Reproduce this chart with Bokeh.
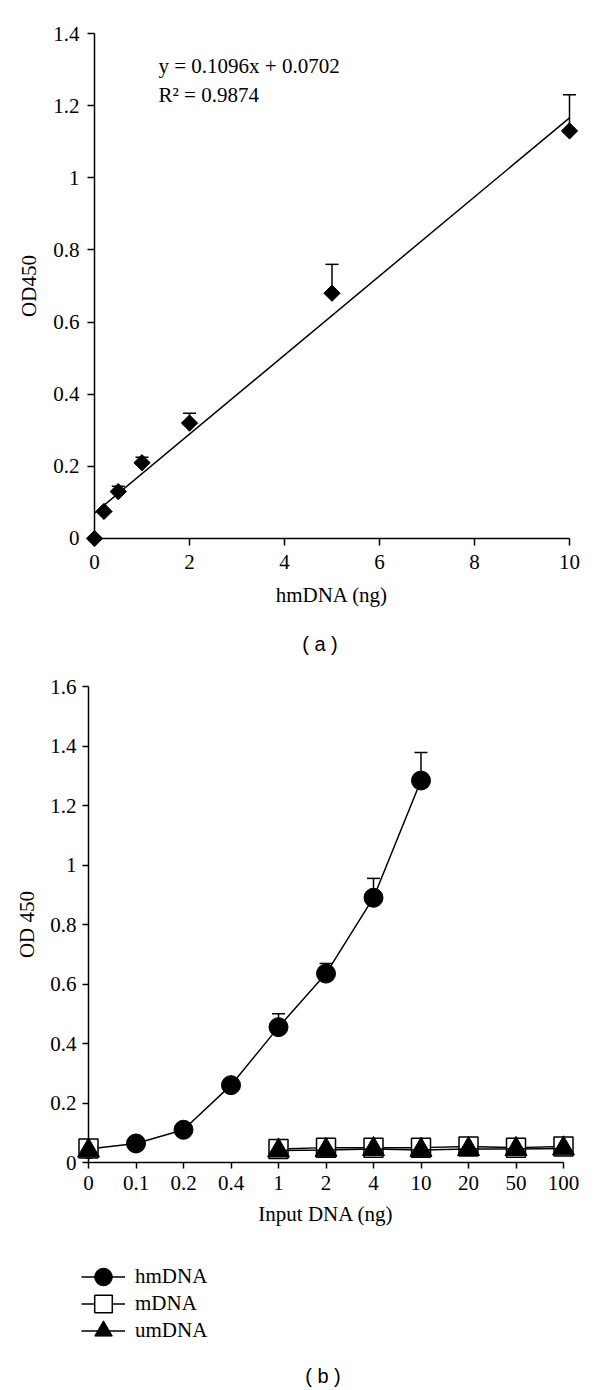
import numpy as np
from bokeh.plotting import figure
from bokeh.models import (Range1d, FixedTicker, NumeralTickFormatter, Whisker, TeeHead,
                          ColumnDataSource, Label, Legend, LegendItem)
from bokeh.layouts import column
from bokeh.embed import file_html
from bokeh.resources import INLINE

# ---------------- data: panel (a) ----------------
a_amount = [0, 0.2, 0.5, 1, 2, 5, 10]          # hmDNA (ng)
a_od = [0.0, 0.075, 0.13, 0.21, 0.32, 0.68, 1.13]
a_sd = [0.0, 0.0, 0.015, 0.015, 0.027, 0.08, 0.10]
fit_slope = 0.1096
fit_intercept = 0.0702
fit_r2 = 0.9874
a_xticks = [0, 2, 4, 6, 8, 10]
a_yticks = [0, 0.2, 0.4, 0.6, 0.8, 1.0, 1.2, 1.4]

# ---------------- data: panel (b) ----------------
nan = float("nan")
b_categories = ["0", "0.1", "0.2", "0.4", "1", "2", "4", "10", "20", "50", "100"]
hm_od = [0.045, 0.064, 0.11, 0.26, 0.455, 0.635, 0.89, 1.284, nan, nan, nan]
hm_sd = [0.0, 0.0, 0.0, 0.0, 0.045, 0.034, 0.065, 0.094, nan, nan, nan]
m_od = [0.047, nan, nan, nan, 0.045, 0.05, 0.05, 0.05, 0.054, 0.05, 0.054]
um_od = [0.04, nan, nan, nan, 0.04, 0.042, 0.045, 0.042, 0.045, 0.045, 0.047]
b_yticks = [0, 0.2, 0.4, 0.6, 0.8, 1.0, 1.2, 1.4, 1.6]

SERIF = "Liberation Serif"
SANS = "Liberation Sans"
FS = "21px"
INK = "#000000"
W = 584
A_TOP, A_BOT = 0, 660        # page rows covered by figure (a)
B_TOP, B_BOT = 660, 1390     # page rows covered by figure (b)


def style_axes(p, xb, yb, tick_out, lab_stand_x, lab_stand_y, ax_stand_x, ax_stand_y):
    for ax in (p.xaxis[0], p.yaxis[0]):
        ax.fixed_location = 0
        ax.axis_line_color = INK
        ax.axis_line_width = 1.5
        ax.major_tick_line_color = INK
        ax.major_tick_line_width = 1.5
        ax.major_tick_out = tick_out
        ax.major_tick_in = 0
        ax.minor_tick_line_color = None
        ax.major_label_text_font = SERIF
        ax.major_label_text_font_size = FS
        ax.major_label_text_color = INK
        ax.axis_label_text_font = SERIF
        ax.axis_label_text_font_size = FS
        ax.axis_label_text_font_style = "normal"
        ax.axis_label_text_color = INK
    p.xaxis[0].bounds = xb
    p.yaxis[0].bounds = yb
    p.xaxis[0].major_label_standoff = lab_stand_x
    p.yaxis[0].major_label_standoff = lab_stand_y
    p.xaxis[0].axis_label_standoff = ax_stand_x
    p.yaxis[0].axis_label_standoff = ax_stand_y
    p.xgrid.visible = False
    p.ygrid.visible = False
    p.outline_line_color = None
    p.background_fill_color = "white"
    p.border_fill_color = "white"


# ================= panel (a) =================
# data origin at page (94, 538); 47.5 px per ng, 360.7 px per OD unit
PXA, PYA = 47.5, 360.7
pa = figure(width=W, height=A_BOT - A_TOP, output_backend="svg", toolbar_location=None,
            x_range=Range1d(-94 / PXA, a_xticks[-1] + (W - 569) / PXA),
            y_range=Range1d(-(A_BOT - 538) / PYA, a_yticks[-1] + (33 - A_TOP) / PYA),
            min_border=0, min_border_left=0, min_border_right=0,
            min_border_top=0, min_border_bottom=0)
style_axes(pa, (a_xticks[0], a_xticks[-1]), (a_yticks[0], a_yticks[-1]), 7, 10, 8, 10, 9)
pa.xaxis[0].ticker = FixedTicker(ticks=a_xticks)
pa.yaxis[0].ticker = FixedTicker(ticks=a_yticks)
pa.xaxis[0].formatter = NumeralTickFormatter(format="0.[0]")
pa.yaxis[0].formatter = NumeralTickFormatter(format="0.[0]")
pa.xaxis[0].axis_label = "hmDNA (ng)"
pa.yaxis[0].axis_label = "OD450"

fit_x = np.array([a_amount[0], a_amount[-1]], dtype=float)
pa.line(fit_x, fit_slope * fit_x + fit_intercept, line_color=INK, line_width=1.5)

a_mask = np.array(a_sd) > 0
a_err_src = ColumnDataSource(dict(
    x=np.array(a_amount)[a_mask],
    lo=np.array(a_od)[a_mask],
    hi=(np.array(a_od) + np.array(a_sd))[a_mask]))
pa.add_layout(Whisker(base="x", lower="lo", upper="hi", source=a_err_src,
                      line_color=INK, line_width=1.5,
                      upper_head=TeeHead(size=13, line_color=INK, line_width=1.5),
                      lower_head=None))
pa.scatter(a_amount, a_od, marker="square", angle=np.pi / 4, size=11.5,
           fill_color=INK, line_color=INK)

# screen coords: x = page_x, y = A_BOT - page_y
pa.add_layout(Label(x=158, y=A_BOT - 65, x_units="screen", y_units="screen",
                    text=f"y = {fit_slope}x + {fit_intercept}", text_font=SERIF,
                    text_font_size=FS, text_color=INK, text_baseline="alphabetic"))
pa.add_layout(Label(x=158, y=A_BOT - 94, x_units="screen", y_units="screen",
                    text=f"R\u00b2 = {fit_r2}", text_font=SERIF,
                    text_font_size=FS, text_color=INK, text_baseline="alphabetic"))
pa.add_layout(Label(x=319.5, y=A_BOT - 643, x_units="screen", y_units="screen",
                    text="( a )", text_font=SANS, text_font_size="20px", text_color=INK,
                    text_align="center", text_baseline="middle"))

# ================= panel (b) =================
# data origin at page (88, 1162); 47.5 px per category, 297.5 px per OD unit
PXB, PYB = 47.5, 297.5
b_idx = list(range(len(b_categories)))
pb = figure(width=W, height=B_BOT - B_TOP, output_backend="svg", toolbar_location=None,
            x_range=Range1d(-88 / PXB, b_idx[-1] + (W - 563) / PXB),
            y_range=Range1d(-(B_BOT - 1162) / PYB, (1162 - B_TOP) / PYB),
            min_border=0, min_border_left=0, min_border_right=0,
            min_border_top=0, min_border_bottom=0)
style_axes(pb, (b_idx[0], b_idx[-1]), (b_yticks[0], b_yticks[-1]), 6, 7, 6, 9, 8)
pb.xaxis[0].ticker = FixedTicker(ticks=b_idx)
pb.xaxis[0].major_label_overrides = {i: c for i, c in zip(b_idx, b_categories)}
pb.yaxis[0].ticker = FixedTicker(ticks=b_yticks)
pb.yaxis[0].formatter = NumeralTickFormatter(format="0.[0]")
pb.xaxis[0].axis_label = "Input DNA (ng)"
pb.yaxis[0].axis_label = "OD 450"

hm_arr = np.array(hm_od)
hm_sd_arr = np.array(hm_sd)
b_mask = np.nan_to_num(hm_sd_arr) > 0
b_err_src = ColumnDataSource(dict(
    x=np.array(b_idx)[b_mask], lo=hm_arr[b_mask], hi=(hm_arr + hm_sd_arr)[b_mask]))
pb.add_layout(Whisker(base="x", lower="lo", upper="hi", source=b_err_src,
                      line_color=INK, line_width=1.5,
                      upper_head=TeeHead(size=13, line_color=INK, line_width=1.5),
                      lower_head=None))

hm_line = pb.line(b_idx, hm_od, line_color=INK, line_width=1.5)
hm_pts = pb.scatter(b_idx, hm_od, marker="circle", size=19, fill_color=INK, line_color=INK)
m_line = pb.line(b_idx, m_od, line_color=INK, line_width=1.5)
m_pts = pb.scatter(b_idx, m_od, marker="square", size=19, fill_color="white",
                   line_color=INK, line_width=1.5)
um_line = pb.line(b_idx, um_od, line_color=INK, line_width=1.5)
um_pts = pb.scatter(b_idx, um_od, marker="triangle", size=22, fill_color=INK, line_color=INK)

# one single-item legend per row (rows centred at page y 1276, 1303, 1330)
GH = 47
legend_rows = [("hmDNA", [hm_line, hm_pts], 1276),
               ("mDNA", [m_line, m_pts], 1303),
               ("umDNA", [um_line, um_pts], 1330)]
for name, rends, yc in legend_rows:
    pb.add_layout(Legend(items=[LegendItem(label=name, renderers=rends)],
                         location=(81, B_BOT - (yc + GH / 2)),
                         glyph_width=44, glyph_height=GH, spacing=0,
                         padding=0, margin=0, label_standoff=10, label_text_font=SERIF,
                         label_text_font_size=FS, label_text_color=INK,
                         border_line_color=None, background_fill_alpha=0))

pb.add_layout(Label(x=322.5, y=B_BOT - 1375, x_units="screen", y_units="screen",
                    text="( b )", text_font=SANS, text_font_size="20px", text_color=INK,
                    text_align="center", text_baseline="middle"))

layout = column(pa, pb, spacing=0)
open("out.html", "w").write(file_html(layout, INLINE))
